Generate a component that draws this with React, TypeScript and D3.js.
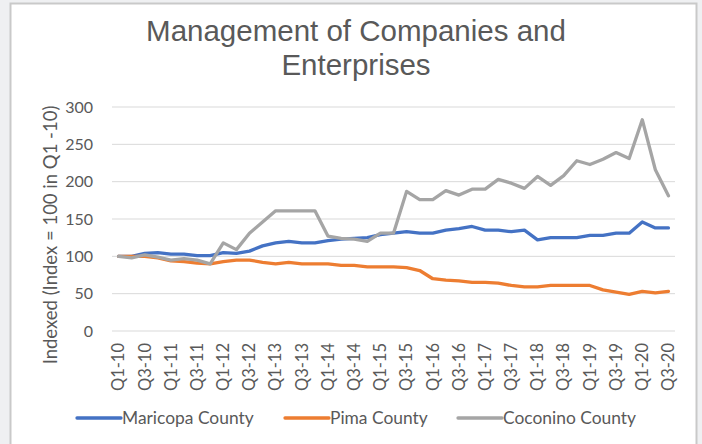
import * as d3 from 'd3'
import { FC } from 'react'

const WIDTH = 702
const HEIGHT = 444
const MARGIN = { top: 107, right: 27, bottom: 113, left: 112 }

const quarters = [
  'Q1-10', 'Q2-10', 'Q3-10', 'Q4-10',
  'Q1-11', 'Q2-11', 'Q3-11', 'Q4-11',
  'Q1-12', 'Q2-12', 'Q3-12', 'Q4-12',
  'Q1-13', 'Q2-13', 'Q3-13', 'Q4-13',
  'Q1-14', 'Q2-14', 'Q3-14', 'Q4-14',
  'Q1-15', 'Q2-15', 'Q3-15', 'Q4-15',
  'Q1-16', 'Q2-16', 'Q3-16', 'Q4-16',
  'Q1-17', 'Q2-17', 'Q3-17', 'Q4-17',
  'Q1-18', 'Q2-18', 'Q3-18', 'Q4-18',
  'Q1-19', 'Q2-19', 'Q3-19', 'Q4-19',
  'Q1-20', 'Q2-20', 'Q3-20',
]

const maricopa = [
  100, 100, 104, 105, 103, 103, 101, 101, 105, 104,
  107, 114, 118, 120, 118, 118, 121, 123, 124, 125,
  129, 131, 133, 131, 131, 135, 137, 140, 135, 135,
  133, 135, 122, 125, 125, 125, 128, 128, 131, 131,
  146, 138, 138,
]

const pima = [
  100, 100, 100, 98, 94, 93, 91, 90, 93, 95,
  95, 92, 90, 92, 90, 90, 90, 88, 88, 86,
  86, 86, 85, 81, 70, 68, 67, 65, 65, 64,
  61, 59, 59, 61, 61, 61, 61, 55, 52, 49,
  53, 51, 53,
]

const coconino = [
  100, 98, 102, 99, 95, 97, 95, 90, 118, 109,
  131, 146, 161, 161, 161, 161, 127, 124, 123, 120,
  131, 131, 187, 176, 176, 188, 182, 190, 190, 203,
  198, 191, 207, 195, 208, 228, 223, 230, 239, 231,
  283, 216, 181,
]

const yTicks = [0, 50, 100, 150, 200, 250, 300]

const series = [
  { name: 'Maricopa County', values: maricopa, color: '#4472C4' },
  { name: 'Pima County', values: pima, color: '#ED7D31' },
  { name: 'Coconino County', values: coconino, color: '#A5A5A5' },
]

const legendX = [77, 285, 458]

const FONT = 'Lato, "Open Sans", sans-serif'
const TITLE_FONT = '"Liberation Sans", Arial, sans-serif'

const App: FC = () => {
  const boundsWidth = WIDTH - MARGIN.left - MARGIN.right
  const boundsHeight = HEIGHT - MARGIN.top - MARGIN.bottom

  const xScale = d3.scaleBand().domain(quarters).range([0, boundsWidth])
  const yScale = d3.scaleLinear().domain([0, 300]).range([boundsHeight, 0])

  const line = d3
    .line<number>()
    .x((_, i) => (xScale(quarters[i]) as number) + xScale.bandwidth() / 2)
    .y((d) => yScale(d))

  return (
    <div style={{ position: 'absolute', left: 0, top: 0 }}>
      <svg width={WIDTH} height={HEIGHT} style={{ display: 'block' }}>
        <rect x={0} y={0} width={WIDTH} height={HEIGHT} fill='#eff0f2' />
        <rect x={10.5} y={3.5} width={686} height={450} fill='#ffffff' stroke='#c9c9c9' strokeWidth={2} />

        <text x={356} y={41} textAnchor='middle' fontSize={29.5} fill='#595959' fontFamily={TITLE_FONT}>
          Management of Companies and
        </text>
        <text x={356} y={75} textAnchor='middle' fontSize={29.5} fill='#595959' fontFamily={TITLE_FONT}>
          Enterprises
        </text>

        <text
          transform={`translate(51,235) rotate(-90)`}
          textAnchor='middle'
          dy='0.35em'
          fontSize={18.5}
          fill='#595959'
          fontFamily={FONT}
        >
          Indexed (Index = 100 in Q1 -10)
        </text>

        <g transform={`translate(${MARGIN.left},${MARGIN.top})`}>
          {yTicks.map((t) => (
            <g key={t}>
              <line x1={0} x2={boundsWidth} y1={yScale(t)} y2={yScale(t)} stroke='#d9d9d9' strokeWidth={1} />
              <text x={-19} y={yScale(t)} dy='0.35em' textAnchor='end' fontSize={16} fill='#595959' fontFamily={FONT}>
                {t}
              </text>
            </g>
          ))}

          {quarters.map((q, i) =>
            i % 2 === 0 ? (
              <text
                key={q}
                transform={`translate(${(xScale(q) as number) + xScale.bandwidth() / 2},${boundsHeight + 12}) rotate(-90)`}
                textAnchor='end'
                dy='0.35em'
                fontSize={16.5}
                fill='#595959'
                fontFamily={FONT}
              >
                {q}
              </text>
            ) : null
          )}

          {series.map((s) => (
            <path
              key={s.name}
              d={line(s.values) as string}
              fill='none'
              stroke={s.color}
              strokeWidth={3.3}
              strokeLinejoin='round'
              strokeLinecap='round'
            />
          ))}
        </g>

        {series.map((s, i) => (
          <g key={s.name} transform={`translate(${legendX[i]},418)`}>
            <line x1={0} x2={44} y1={0} y2={0} stroke={s.color} strokeWidth={3.3} strokeLinecap='round' />
            <text x={45} y={0} dy='0.35em' fontSize={17.4} fill='#595959' fontFamily={FONT}>
              {s.name}
            </text>
          </g>
        ))}
      </svg>
    </div>
  )
}

export default App
